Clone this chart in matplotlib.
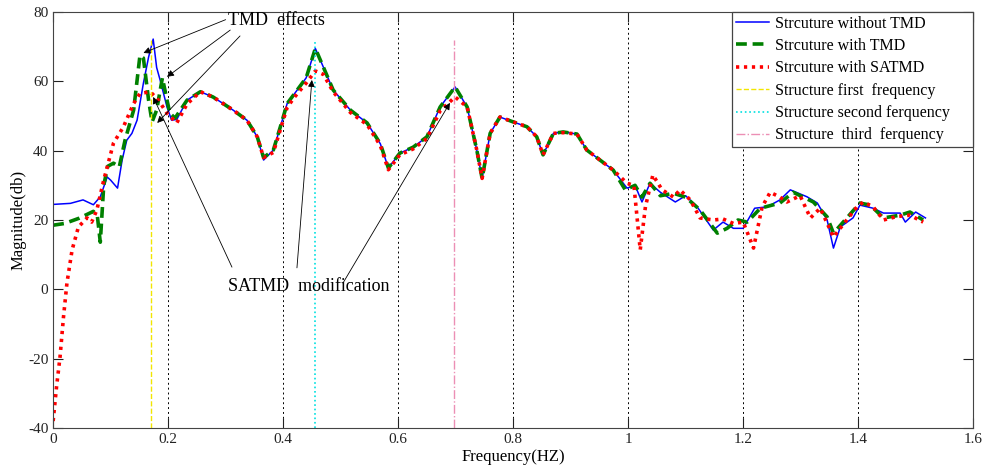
import matplotlib
matplotlib.use("Agg")
import matplotlib.pyplot as plt
import numpy as np

plt.rcParams['font.family'] = ['Liberation Serif', 'DejaVu Serif']
plt.rcParams['axes.unicode_minus'] = False

# frequency response
blue_x = [0, 0.03, 0.052, 0.07, 0.082, 0.094, 0.10, 0.112, 0.12, 0.128, 0.137, 0.146,
          0.157, 0.166, 0.174, 0.18, 0.186, 0.198, 0.206, 0.215, 0.233, 0.256, 0.278,
          0.313, 0.337, 0.355, 0.366, 0.383, 0.395, 0.407, 0.42, 0.44, 0.456, 0.487,
          0.517, 0.546, 0.569, 0.583, 0.603, 0.626, 0.65, 0.673, 0.699, 0.72, 0.737,
          0.746, 0.76, 0.777, 0.8, 0.824, 0.841, 0.852, 0.87, 0.887, 0.911, 0.928,
          0.951, 0.974, 0.998, 1.012, 1.024, 1.038, 1.056, 1.082, 1.10, 1.12, 1.148,
          1.165, 1.183, 1.2, 1.22, 1.242, 1.264, 1.282, 1.311, 1.329, 1.346, 1.357,
          1.369, 1.391, 1.403, 1.426, 1.444, 1.473, 1.482, 1.5, 1.517]
blue_y = [24.5, 24.8, 25.8, 24.4, 26.7, 32.4, 31.5, 29.2, 37.3, 43, 45, 48.8,
          59.5, 67, 72.2, 64, 60.4, 52.6, 48.8, 49, 54.6, 57, 55.5,
          51.7, 48.8, 44, 37.3, 40.2, 46.8, 53.6, 56.5, 61, 69.5, 57.5,
          51.7, 48, 42, 35, 39.3, 41, 44, 52.6, 58.4, 52.6, 40,
          32, 45, 49.7, 48.3, 46.9, 44, 38.8, 45, 45.4, 44.8, 40.2,
          37.3, 34.4, 29.2, 30, 25.2, 30.6, 28, 25.2, 27, 23.8, 17.1,
          19.4, 17.6, 17.6, 23.4, 23.8, 25.8, 28.7, 26.7, 24.9, 20, 11.9,
          18, 20.6, 24.3, 23.4, 22, 22, 19.4, 22.3, 20.6]

green_x = [0, 0.02, 0.045, 0.07, 0.077, 0.082, 0.088, 0.095, 0.105, 0.115, 0.125,
           0.14, 0.151, 0.157, 0.166, 0.172, 0.18, 0.19, 0.198, 0.203, 0.212, 0.233,
           0.256, 0.278, 0.313, 0.337, 0.355, 0.366, 0.383, 0.395, 0.407, 0.42, 0.44,
           0.456, 0.487, 0.517, 0.546, 0.569, 0.583, 0.603, 0.626, 0.65, 0.673, 0.699,
           0.72, 0.737, 0.746, 0.76, 0.777, 0.8, 0.824, 0.841, 0.852, 0.87, 0.887,
           0.911, 0.928, 0.951, 0.974, 0.995, 1.012, 1.024, 1.038, 1.056, 1.079, 1.10,
           1.125, 1.155, 1.172, 1.191, 1.207, 1.23, 1.264, 1.287, 1.322, 1.346, 1.357,
           1.374, 1.403, 1.421, 1.444, 1.473, 1.49, 1.513]
green_y = [18.5, 19, 20.5, 22.5, 21, 13.6, 30, 35.5, 36.4, 35.3, 43,
           51.7, 67.5, 66.7, 54.6, 48.3, 51.7, 61, 54.6, 50.8, 49.4, 54.6,
           57, 55.5, 51.7, 48.8, 44, 38, 40.2, 46.8, 53.6, 56.5, 61,
           69.5, 57.5, 51.7, 48, 42, 35, 39.3, 41, 44, 52.6, 58.4,
           52.6, 40, 32, 45, 49.7, 48.3, 46.9, 44, 38.8, 45, 45.4,
           44.8, 40.2, 37.3, 34.4, 28.7, 30, 26.6, 30.6, 27, 27.7, 26.6,
           22.9, 16.2, 17.6, 20, 19.4, 23.4, 24.9, 28, 25.2, 20.9, 16.2,
           19.4, 24.9, 24.3, 20.6, 21.4, 22.3, 20]

red_x = [0, 0.006, 0.012, 0.018, 0.024, 0.033, 0.044, 0.059, 0.067, 0.076, 0.088,
         0.105, 0.122, 0.14, 0.151, 0.169, 0.183, 0.198, 0.215, 0.233, 0.256, 0.278,
         0.313, 0.337, 0.355, 0.366, 0.383, 0.395, 0.407, 0.42, 0.44, 0.456, 0.47,
         0.487, 0.517, 0.546, 0.569, 0.583, 0.603, 0.626, 0.65, 0.673, 0.699, 0.72,
         0.737, 0.746, 0.76, 0.777, 0.8, 0.824, 0.841, 0.852, 0.87, 0.887, 0.911,
         0.928, 0.951, 0.974, 0.998, 1.01, 1.021, 1.03, 1.043, 1.059, 1.079, 1.09,
         1.108, 1.125, 1.148, 1.165, 1.183, 1.2, 1.218, 1.233, 1.247, 1.264, 1.276,
         1.299, 1.317, 1.334, 1.357, 1.38, 1.398, 1.409, 1.426, 1.444, 1.467, 1.49,
         1.513]
red_y = [-38, -28, -19.5, -8, 1.8, 11.4, 18, 20.6, 19.4, 22.9, 31.5,
         42.2, 46.8, 53.6, 56.5, 57, 54.6, 50.8, 48, 53.5, 57, 55.5,
         51.7, 48.8, 44, 38, 39.5, 46, 52.5, 55.5, 59.5, 63, 62,
         57, 51, 47.5, 41.5, 34.5, 38.8, 40.5, 43.5, 51.5, 55.5, 52.6,
         40, 32, 45, 49.7, 48.3, 46.9, 44, 38.8, 45, 45.2, 44.8,
         40.2, 37.3, 34.4, 30.6, 30, 11.4, 23.8, 33, 28.7, 26.6, 28.7,
         25.8, 20.6, 20, 20.3, 19, 19.4, 11.9, 23.8, 28, 26.6, 25.2,
         27, 20.6, 23.4, 15.1, 20, 23.8, 25.2, 23.8, 20, 21, 21.4,
         19.4]

first_freq = 0.17
second_freq = 0.456
third_freq = 0.697
freq_line_range = [-40, 72]

labels = ['Strcuture without TMD', 'Strcuture with TMD', 'Strcuture with SATMD',
          'Structure first  frequency', 'Structure second ferquency',
          'Structure  third  ferquency']

fig = plt.figure(figsize=(9.84, 4.70), dpi=100)
ax = fig.add_axes([0.054, 0.0894, 0.935, 0.885])

ax.plot(blue_x, blue_y, '-', color='blue', lw=1.1, label=labels[0])
ax.plot(green_x, green_y, '--', color='green', lw=2.6, dashes=(3, 1.6), label=labels[1])
ax.plot(red_x, red_y, ':', color='red', lw=2.6, dashes=(0.9, 1.3), label=labels[2])
ax.plot([first_freq, first_freq], freq_line_range, '--', color='#f2e600', lw=1.0, label=labels[3])
ax.plot([second_freq, second_freq], freq_line_range, ':', color='#00e0e0', lw=1.2, label=labels[4])
ax.plot([third_freq, third_freq], freq_line_range, '-.', color='#ec8fb5', lw=1.0, label=labels[5])

ax.set_xlim(0, 1.6)
ax.set_ylim(-40, 80)
ax.set_xticks(np.arange(0, 1.61, 0.2))
ax.set_xticklabels(['0', '0.2', '0.4', '0.6', '0.8', '1', '1.2', '1.4', '1.6'])
ax.set_yticks(np.arange(-40, 81, 20))
ax.tick_params(direction='in', length=7, top=True, right=True, labelsize=11, colors='#222222')
ax.xaxis.grid(True, linestyle=(0, (2, 3)), color='k', lw=0.7)
for s in ax.spines.values():
    s.set_color('#444444')

ax.set_xlabel('Frequency(HZ)', fontsize=12, labelpad=2)
ax.set_ylabel('Magnitude(db)', fontsize=12, labelpad=1)

leg = ax.legend(loc='upper right', bbox_to_anchor=(0.738, 0.0, 0.262, 1.0), mode='expand',
                borderaxespad=0, fancybox=False, framealpha=1,
                edgecolor='#444444', fontsize=11.5, handlelength=2.1, handletextpad=0.35,
                labelspacing=0.4, borderpad=0.22)
leg.get_frame().set_linewidth(0.9)

# annotations
arrow = dict(arrowstyle='-|>', color='k', lw=0.6, mutation_scale=10, shrinkA=0, shrinkB=0)
ax.text(0.304, 77.5, 'TMD  effects', fontsize=13, va='center', ha='left')
ax.annotate('', xy=(0.157, 68.2), xytext=(0.300, 77.8), arrowprops=arrow)
ax.annotate('', xy=(0.198, 61.3), xytext=(0.308, 74.8), arrowprops=arrow)
ax.annotate('', xy=(0.181, 48.0), xytext=(0.325, 73.1), arrowprops=arrow)

ax.text(0.445, 0.7, 'SATMD  modification', fontsize=13, va='center', ha='center')
ax.annotate('', xy=(0.174, 55.5), xytext=(0.311, 6.4), arrowprops=arrow)
ax.annotate('', xy=(0.450, 60.4), xytext=(0.424, 6.2), arrowprops=arrow)
ax.annotate('', xy=(0.690, 53.8), xytext=(0.504, 1.8), arrowprops=arrow)

fig.savefig('out.png', dpi=100)
